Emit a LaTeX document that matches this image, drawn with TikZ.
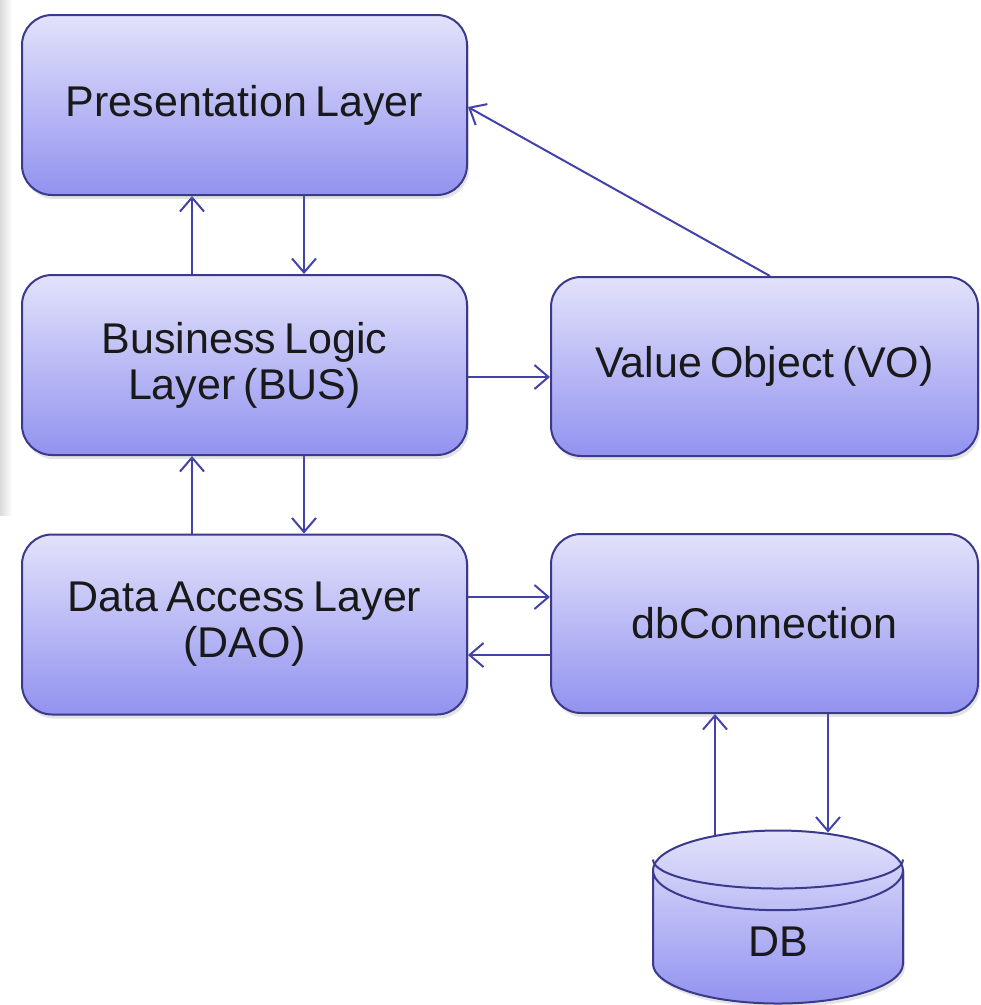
\documentclass[tikz,border=0pt]{standalone}
\usepackage{fontspec}
\setmainfont{Liberation Sans}[WordSpace=0.7]
\usepackage{tikz}
\usetikzlibrary{arrows.meta}
\usetikzlibrary{backgrounds,shadows}
\usetikzlibrary{shapes,shapes.geometric}
\pgfdeclarelayer{edgelayer}
\pgfdeclarelayer{nodelayer}
\pgfsetlayers{background,edgelayer,nodelayer,main}
\definecolor{edgeblue}{RGB}{66,66,168}
\definecolor{boxline}{RGB}{58,58,140}
\definecolor{boxtop}{RGB}{226,226,251}
\definecolor{boxbot}{RGB}{146,146,240}
\tikzstyle{layer}=[draw=boxline,line width=2pt,rounded corners=30pt,top color=boxtop,bottom color=boxbot,minimum width=445pt,minimum height=180pt,align=center,text=black!90,font=\fontsize{43}{46}\selectfont,drop shadow={opacity=0.22,shadow xshift=2pt,shadow yshift=-4pt}]
\tikzstyle{store}=[layer,rounded corners=0pt,shape=cylinder,shape border rotate=90,aspect=1.2,minimum width=250pt,minimum height=173pt]
\tikzstyle{rim}=[draw=boxline,line width=2pt]
\tikzstyle{diredge}=[draw=edgeblue,line width=2pt,-{Straight Barb[length=14pt,width=24pt]}]

\begin{document}
\begin{tikzpicture}[x=1pt,y=-1pt]
	\useasboundingbox (0,0) rectangle (981,1005);
	\shade [left color=black!14,right color=white] (0,0) rectangle (12,515);
	\begin{pgfonlayer}{nodelayer}
		\node [style=layer] (pres) at (244.5, 105) {Presentation Layer};
		\node [style=layer] (bus) at (244.5, 365) {Business Logic\\Layer (BUS)};
		\node [style=layer] (dao) at (244.5, 624.5) {Data Access Layer\\(DAO)};
		\node [style=layer,minimum width=427pt,minimum height=179pt] (vo) at (764.5, 366.5) {Value Object (VO)};
		\node [style=layer,minimum width=427pt,minimum height=179pt] (dbc) at (764.5, 623.5) {dbConnection};
		\node [style=store] (db) at (778, 942) {DB};
		% front rim of the top lid
		\draw [style=rim] (db.north) ++(-125,30) arc [start angle=180,end angle=360,x radius=125pt,y radius=29pt];
	\end{pgfonlayer}
	\begin{pgfonlayer}{edgelayer}
		\draw [style=diredge] ([xshift=-52.5pt]bus.north) to ([xshift=-52.5pt]pres.south);
		\draw [style=diredge] ([xshift=59.5pt]pres.south) to ([xshift=59.5pt]bus.north);
		\draw [style=diredge] ([xshift=-52.5pt]dao.north) to ([xshift=-52.5pt]bus.south);
		\draw [style=diredge] ([xshift=59.5pt]bus.south) to ([xshift=59.5pt]dao.north);
		\draw [style=diredge] ([yshift=-12pt]bus.east) to ([yshift=-10.5pt]vo.west);
		\draw [style=diredge] ([xshift=5.5pt]vo.north) to ([yshift=-2pt]pres.east);
		\draw [style=diredge] ([yshift=27.5pt]dao.east) to ([yshift=26.5pt]dbc.west);
		\draw [style=diredge] ([yshift=-31.5pt]dbc.west) to ([yshift=-30.5pt]dao.east);
		\draw [style=diredge] ([xshift=-63pt,yshift=-5pt]db.north) to ([xshift=-49.5pt]dbc.south);
		\draw [style=diredge] ([xshift=63.5pt]dbc.south) to ([xshift=50pt,yshift=-3pt]db.north);
	\end{pgfonlayer}
\end{tikzpicture}
\end{document}
